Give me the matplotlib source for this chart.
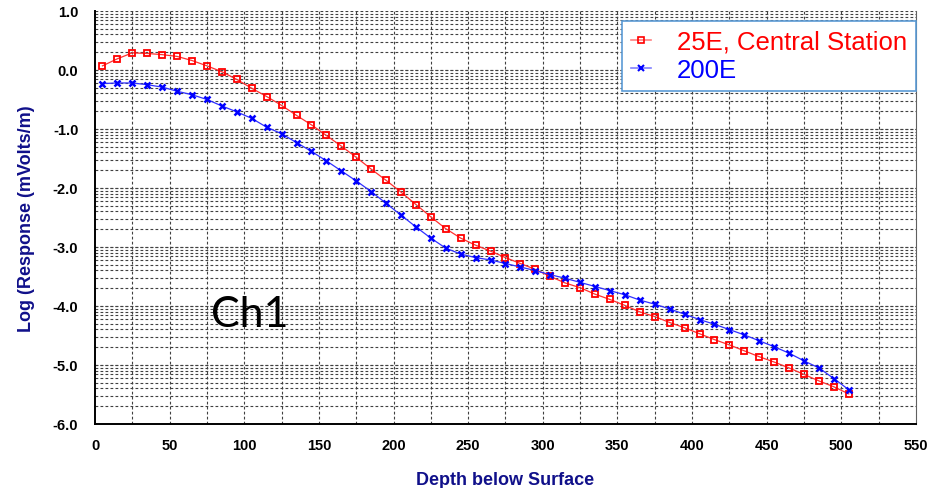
import numpy as np
import matplotlib
matplotlib.use('Agg')
import matplotlib.pyplot as plt
from matplotlib.lines import Line2D

plt.rcParams['font.family'] = ['Liberation Sans', 'DejaVu Sans']

# depth (x) shared by both stations
depth = [5, 15, 25, 35, 45, 55, 65, 75, 85, 95,
         105, 115, 125, 135, 145, 155, 165, 175, 185, 195,
         205, 215, 225, 235, 245, 255, 265, 275, 285, 295,
         305, 315, 325, 335, 345, 355, 365, 375, 385, 395,
         405, 415, 425, 435, 445, 455, 465, 475, 485, 495, 505]

# 25E, Central Station
resp_25e = [0.07, 0.19, 0.29, 0.28, 0.26, 0.23, 0.16, 0.07, -0.03, -0.16,
            -0.31, -0.45, -0.60, -0.77, -0.93, -1.11, -1.29, -1.48, -1.68, -1.87,
            -2.07, -2.28, -2.49, -2.69, -2.85, -2.97, -3.07, -3.18, -3.28, -3.38,
            -3.50, -3.61, -3.69, -3.80, -3.89, -3.99, -4.10, -4.18, -4.28, -4.37,
            -4.47, -4.57, -4.66, -4.76, -4.86, -4.95, -5.05, -5.16, -5.27, -5.37, -5.49]

# 200E
resp_200e = [-0.23, -0.22, -0.22, -0.25, -0.29, -0.36, -0.42, -0.50, -0.61, -0.71,
             -0.82, -0.97, -1.08, -1.23, -1.38, -1.54, -1.71, -1.88, -2.06, -2.26,
             -2.46, -2.66, -2.85, -3.02, -3.12, -3.18, -3.22, -3.28, -3.34, -3.40,
             -3.47, -3.53, -3.60, -3.67, -3.74, -3.81, -3.90, -3.97, -4.05, -4.14,
             -4.23, -4.31, -4.40, -4.49, -4.59, -4.69, -4.80, -4.93, -5.05, -5.23, -5.42]

y_ticks = [1, 0, -1, -2, -3, -4, -5, -6]
x_ticks = [0, 50, 100, 150, 200, 250, 300, 350, 400, 450, 500, 550]

NAVY = '#10108a'
GRID = '#404040'

fig = plt.figure(figsize=(9.36, 4.89), dpi=100)
ax = fig.add_axes([0.1015, 0.1309, 0.8771, 0.8446])
ax.set_xlim(0, 550)
ax.set_ylim(-6, 1)

# grid: vertical every 25, horizontal log-spaced within each decade
for xv in range(25, 550, 25):
    ax.axvline(xv, color=GRID, lw=0.8, ls=(0, (2.5, 2)), zorder=0)
for k in range(-6, 1):
    for m in range(1, 11):
        yv = k + np.log10(m)
        if -6 < yv <= 1:
            ax.axhline(yv, color=GRID, lw=0.8, ls=(0, (2.5, 2)), zorder=0)

ax.plot(depth, resp_25e, color='#ff3030', lw=0.9, marker='s', ms=4.2,
        mfc='none', mec='#ff0000', mew=1.3, zorder=3)
ax.plot(depth, resp_200e, color='#3030ff', lw=0.9, marker='x', ms=4.8,
        mec='#0000ff', mew=1.8, zorder=3)

ax.set_xticks(x_ticks)
ax.set_xticklabels([str(v) for v in x_ticks], fontsize=10.5, fontweight='bold')
ax.set_yticks(y_ticks)
ax.set_yticklabels([f'{v:.1f}' for v in y_ticks], fontsize=10.5, fontweight='bold')
ax.tick_params(axis='x', length=0, pad=10)
ax.tick_params(axis='y', length=0, pad=12)

ax.spines['top'].set_visible(False)
ax.spines['right'].set_color('#606060')
ax.spines['left'].set_linewidth(1.4)
ax.spines['bottom'].set_linewidth(1.4)

ax.set_xlabel('Depth below Surface', fontsize=13, fontweight='bold', color=NAVY, labelpad=14)
ax.set_ylabel('Log (Response (mVolts/m)', fontsize=13, fontweight='bold', color=NAVY, labelpad=13)

ax.text(78, -4.34, 'Ch1', fontsize=31, family=['Lato', 'DejaVu Sans'],
        color='black', va='baseline', ha='left', zorder=4)

handles = [
    Line2D([], [], color='#ff8080', lw=1.2, marker='s', ms=4, mfc='none', mec='#ff0000', mew=1.2),
    Line2D([], [], color='#8080ff', lw=1.2, marker='x', ms=4, mec='#0000ff', mew=1.5),
]
leg = ax.legend(handles, ['25E, Central Station', '200E'], loc='upper right',
                bbox_to_anchor=(1.0, 0.976), fontsize=18.5, frameon=True, fancybox=False,
                handlelength=0.8, handletextpad=1.0, borderpad=0.35, labelspacing=0.15,
                borderaxespad=0)
leg.get_frame().set_edgecolor('#5b9bd5')
leg.get_frame().set_linewidth(1.2)
leg.get_frame().set_alpha(1)
for t, c in zip(leg.get_texts(), ['#ff0000', '#0000ff']):
    t.set_color(c)

fig.savefig('out.png', dpi=100)
